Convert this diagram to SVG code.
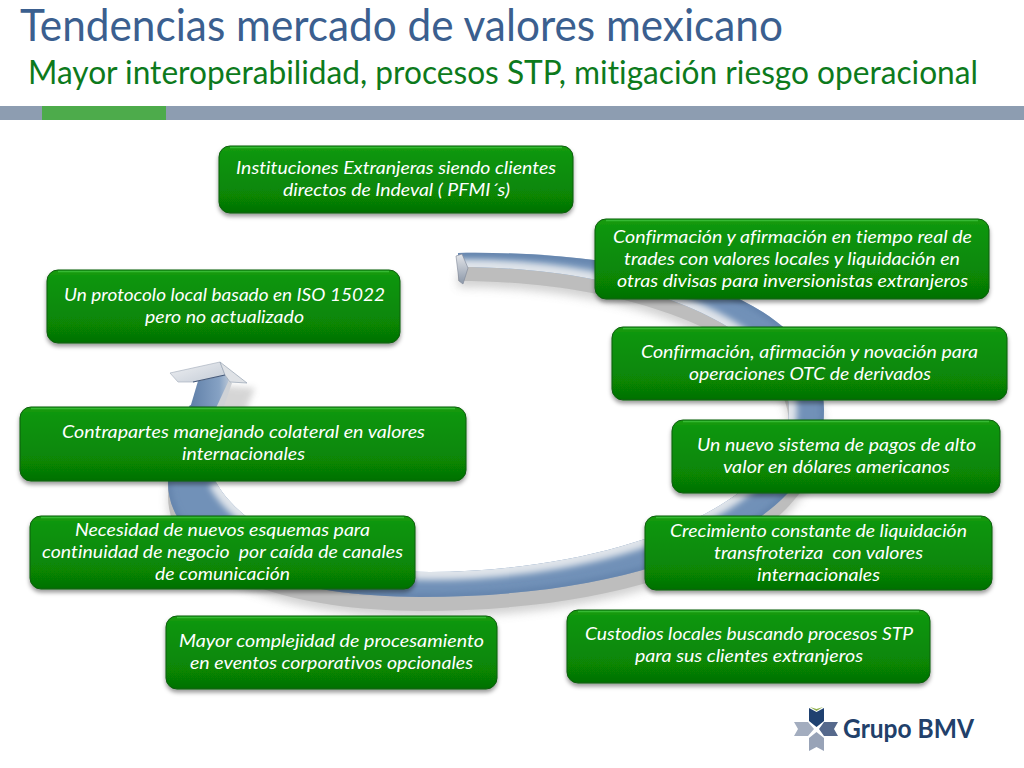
<svg xmlns="http://www.w3.org/2000/svg" width="1024" height="768" viewBox="0 0 1024 768">
<style>
.t{font-family:Lato,"Liberation Sans",sans-serif;font-style:italic;font-size:17.5px;fill:#fff;text-anchor:middle;white-space:pre;font-variant-ligatures:none}
.b{fill:url(#g);stroke:#0a5c0a;stroke-width:1;filter:url(#s)}
.h{fill:none;stroke:#3fc03f;stroke-width:1.4;opacity:.8}
.head{font-family:Lato,"Liberation Sans",sans-serif;font-variant-ligatures:none}
</style>
<defs>
<linearGradient id="g" x1="0" y1="0" x2="0" y2="1"><stop offset="0" stop-color="#169c12"/><stop offset=".12" stop-color="#0e950c"/><stop offset=".75" stop-color="#078506"/><stop offset="1" stop-color="#057005"/></linearGradient>
<linearGradient id="cap" x1="0" y1="0" x2="0" y2="1"><stop offset="0" stop-color="#e4e6ea"/><stop offset="1" stop-color="#8b97a8"/></linearGradient>
<linearGradient id="hd" x1="0" y1="0" x2="1" y2="1"><stop offset="0" stop-color="#f0f1f3"/><stop offset="1" stop-color="#c3cbd6"/></linearGradient>
<linearGradient id="sh" x1="0" y1="0" x2="1" y2="0"><stop offset="0" stop-color="#5f7fa8"/><stop offset=".75" stop-color="#86a2c4"/><stop offset="1" stop-color="#b9c6d6"/></linearGradient>
<filter id="s" x="-5%" y="-10%" width="110%" height="125%"><feDropShadow dx="0" dy="3" stdDeviation="2" flood-color="#000" flood-opacity=".4"/></filter>
<filter id="blur" x="-10%" y="-10%" width="120%" height="125%"><feGaussianBlur stdDeviation="5"/></filter>
<filter id="blur2" x="-10%" y="-10%" width="120%" height="125%"><feGaussianBlur stdDeviation="3"/></filter>
<path id="band" d="M458 253C660 250 824 300 824 410C824 520 660 597 420 597C290 597 168 560 168 482C168 450 178 425 190 405L217 410C205 450 207 464 216 482C236 520 310 572 430 572C600 572 789 510 789 410C789 330 640 267 458 267Z"/>
<clipPath id="bc"><use href="#band"/></clipPath>
</defs>
<rect width="1024" height="768" fill="#fff"/>
<g id="header">
<text class="head" x="20" y="41" font-size="44" fill="#3b5f8f" textLength="763" lengthAdjust="spacingAndGlyphs">Tendencias mercado de valores mexicano</text>
<text class="head" x="28" y="84" font-size="32" fill="#0d7a1c" textLength="950" lengthAdjust="spacingAndGlyphs">Mayor interoperabilidad, procesos STP, mitigación riesgo operacional</text>
<rect x="0" y="106" width="1024" height="14" fill="#8d9db1"/>
<rect x="42" y="106" width="124" height="14" fill="#4dab4b"/>
</g>
<g id="connectors">
<use href="#band" transform="translate(0,20)" fill="#999" opacity=".45" filter="url(#blur)"/>
<use href="#band" transform="translate(0,14)" fill="#bdbdbd"/>
<use href="#band" fill="#7191b8"/>
<g clip-path="url(#bc)">
<path d="M216 482C236 520 310 572 430 572C600 572 789 510 789 410C789 330 640 267 458 267" fill="none" stroke="#dfe4ea" stroke-width="16" filter="url(#blur2)"/>
<path d="M458 253C660 250 824 300 824 410C824 520 660 597 420 597C290 597 168 560 168 482" fill="none" stroke="#5f7fa8" stroke-width="5" filter="url(#blur2)"/>
</g>
<polygon points="456,256 462,254 468,268 463,284 459,281" fill="url(#cap)" stroke="#7d8797" stroke-width=".6"/>
<polygon points="215,385 255,388 240,425 212,416" fill="#999" opacity=".4" filter="url(#blur2)"/>
<polygon points="223,378 232,383 222,412 214,410" fill="#cfd2d6"/>
<polygon points="190,408 198,381 225,375 229,380 216,408" fill="url(#sh)"/>
<polygon points="170,373 220,362 225,375 193,382 178,382" fill="url(#hd)" stroke="#aab3c0" stroke-width=".7"/>
<polygon points="220,362 247,383 230,382 225,375" fill="#dfe2e6" stroke="#97a3b3" stroke-width=".7"/>
<path d="M193 382L225 375" stroke="#44597a" stroke-width="1.2" fill="none"/>
</g>
<g id="n1"><rect class="b" x="219" y="146" width="354" height="67" rx="11"/><path class="h" d="M230 147.500H562"/>
<text class="t" x="396" y="174" textLength="320" lengthAdjust="spacingAndGlyphs">Instituciones Extranjeras siendo clientes</text>
<text class="t" x="396.500" y="196" textLength="227" lengthAdjust="spacingAndGlyphs">directos de Indeval ( PFMI´s)</text></g>
<g id="n2"><rect class="b" x="595" y="219" width="394" height="80" rx="11"/><path class="h" d="M606 220.500H978"/>
<text class="t" x="792.500" y="243" textLength="359" lengthAdjust="spacingAndGlyphs">Confirmación y afirmación en tiempo real de</text>
<text class="t" x="792" y="265" textLength="336" lengthAdjust="spacingAndGlyphs">trades con valores locales y liquidación en</text>
<text class="t" x="792.500" y="287" textLength="351" lengthAdjust="spacingAndGlyphs">otras divisas para inversionistas extranjeros</text></g>
<g id="n3"><rect class="b" x="612" y="327" width="395" height="73" rx="11"/><path class="h" d="M623 328.500H996"/>
<text class="t" x="809.500" y="358" textLength="337" lengthAdjust="spacingAndGlyphs">Confirmación, afirmación y novación para</text>
<text class="t" x="810" y="380" textLength="242" lengthAdjust="spacingAndGlyphs">operaciones OTC de derivados</text></g>
<g id="n4"><rect class="b" x="672" y="420" width="328" height="73" rx="11"/><path class="h" d="M683 421.500H989"/>
<text class="t" x="836.500" y="451" textLength="279" lengthAdjust="spacingAndGlyphs">Un nuevo sistema de pagos de alto</text>
<text class="t" x="836.500" y="473" textLength="227" lengthAdjust="spacingAndGlyphs">valor en dólares americanos</text></g>
<g id="n5"><rect class="b" x="645" y="516" width="347" height="74" rx="11"/><path class="h" d="M656 517.500H981"/>
<text class="t" x="818.500" y="537" textLength="297" lengthAdjust="spacingAndGlyphs">Crecimiento constante de liquidación</text>
<text class="t" x="818.500" y="559" textLength="209" lengthAdjust="spacingAndGlyphs">transfroteriza  con valores</text>
<text class="t" x="818.500" y="581" textLength="123" lengthAdjust="spacingAndGlyphs">internacionales</text></g>
<g id="n6"><rect class="b" x="567" y="610" width="363" height="73" rx="11"/><path class="h" d="M578 611.500H919"/>
<text class="t" x="749" y="640" textLength="328" lengthAdjust="spacingAndGlyphs">Custodios locales buscando procesos STP</text>
<text class="t" x="749" y="662" textLength="228" lengthAdjust="spacingAndGlyphs">para sus clientes extranjeros</text></g>
<g id="n7"><rect class="b" x="166" y="616" width="331" height="73" rx="11"/><path class="h" d="M177 617.500H486"/>
<text class="t" x="331.500" y="647" textLength="305" lengthAdjust="spacingAndGlyphs">Mayor complejidad de procesamiento</text>
<text class="t" x="331.500" y="669" textLength="283" lengthAdjust="spacingAndGlyphs">en eventos corporativos opcionales</text></g>
<g id="n8"><rect class="b" x="30" y="516" width="385" height="73" rx="11"/><path class="h" d="M41 517.500H404"/>
<text class="t" x="222.500" y="536" textLength="295" lengthAdjust="spacingAndGlyphs">Necesidad de nuevos esquemas para</text>
<text class="t" x="222.500" y="558" textLength="361" lengthAdjust="spacingAndGlyphs">continuidad de negocio  por caída de canales</text>
<text class="t" x="222.500" y="580" textLength="135" lengthAdjust="spacingAndGlyphs">de comunicación</text></g>
<g id="n9"><rect class="b" x="20" y="407" width="446" height="74" rx="11"/><path class="h" d="M31 408.500H455"/>
<text class="t" x="243.500" y="438" textLength="363" lengthAdjust="spacingAndGlyphs">Contrapartes manejando colateral en valores</text>
<text class="t" x="243.500" y="460" textLength="123" lengthAdjust="spacingAndGlyphs">internacionales</text></g>
<g id="n10"><rect class="b" x="47" y="270" width="353" height="73" rx="11"/><path class="h" d="M58 271.500H389"/>
<text class="t" x="224.500" y="301" textLength="321" lengthAdjust="spacingAndGlyphs">Un protocolo local basado en ISO 15022</text>
<text class="t" x="224.500" y="323" textLength="159" lengthAdjust="spacingAndGlyphs">pero no actualizado</text></g>
<g id="logo">
<polygon points="809,708 816.500,712 824,708 824,721 816.500,727 809,721" fill="#1f4170"/>
<polygon points="810,707 816.500,711 823,707 816.500,709" fill="#8fb04a"/>
<polygon points="794,722 808,722 814,729 808,736 794,736 798,729" fill="#a3adbf"/>
<polygon points="838,722 824,722 819,729 824,736 838,736 834,729" fill="#56698c"/>
<polygon points="809,751 816.500,747 824,751 824,738 816.500,732 809,738" fill="#98a3b7"/>
<text class="head" x="843" y="738" font-size="27" font-weight="700" fill="#21406a" textLength="131" lengthAdjust="spacingAndGlyphs">Grupo BMV</text>
</g>
</svg>
